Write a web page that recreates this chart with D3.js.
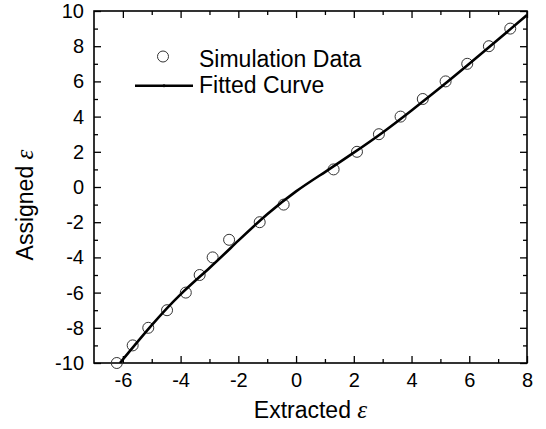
<!DOCTYPE html>
<html>
<head>
<meta charset="utf-8">
<style>
body { margin: 0; background: #fff; }
text { font-family: "Liberation Sans", Arial, sans-serif; fill: #000; }
.tick text { font-size: 20px; }
</style>
</head>
<body>
<script src="https://cdn.jsdelivr.net/npm/d3@7"></script>
<script>

// simulation data (extracted vs assigned)
var simX = [-6.21, -5.66, -5.12, -4.47, -3.82, -3.34, -2.89, -2.32, -1.26, -0.43,
            1.30, 2.11, 2.87, 3.62, 4.39, 5.18, 5.93, 6.68, 7.42];
var simY = [-10, -9, -8, -7, -6, -5, -4, -3, -2, -1,
            1, 2, 3, 4, 5, 6, 7, 8, 9];

// fitted curve
var fitX = [-6.1, -5, -4, -3, -2, -1, 0, 1, 2, 3, 4, 5, 6, 7, 8];
var fitY = [-10, -7.85, -6.1, -4.6, -3.05, -1.55, -0.25, 0.85, 1.95, 3.1, 4.35, 5.65, 7.0, 8.38, 9.77];

var xTicks = [-6, -4, -2, 0, 2, 4, 6, 8];
var yTicks = [-10, -8, -6, -4, -2, 0, 2, 4, 6, 8, 10];

var width = 546, height = 429;
var margin = {left: 94, right: 19, top: 11, bottom: 66};

var svg = d3.select("body").append("svg")
    .attr("width", width)
    .attr("height", height);

var x = d3.scaleLinear().domain([-7, 8]).range([margin.left, width - margin.right]);
var y = d3.scaleLinear().domain([-10, 10]).range([height - margin.bottom, margin.top]);

var minorX = d3.range(-5, 9, 2);
var minorY = d3.range(-9, 10, 2);
var fmt = function(d) { return String(d); };

function styleAxis(g) {
  g.select(".domain").remove();
  g.selectAll(".tick line").attr("stroke", "#000").attr("stroke-width", 1.3);
}

// bottom
svg.append("g")
    .attr("transform", "translate(0," + y(-10) + ")")
    .call(d3.axisBottom(x).tickValues(xTicks).tickSize(-7).tickPadding(10).tickFormat(fmt))
    .call(styleAxis);
svg.append("g")
    .attr("transform", "translate(0," + y(-10) + ")")
    .call(d3.axisBottom(x).tickValues(minorX).tickSize(-4).tickFormat(""))
    .call(styleAxis);
// top
svg.append("g")
    .attr("transform", "translate(0," + y(10) + ")")
    .call(d3.axisTop(x).tickValues(xTicks).tickSize(-7).tickFormat(""))
    .call(styleAxis);
svg.append("g")
    .attr("transform", "translate(0," + y(10) + ")")
    .call(d3.axisTop(x).tickValues(minorX).tickSize(-4).tickFormat(""))
    .call(styleAxis);
// left
svg.append("g")
    .attr("transform", "translate(" + x(-7) + ",0)")
    .call(d3.axisLeft(y).tickValues(yTicks).tickSize(-7).tickPadding(10).tickFormat(fmt))
    .call(styleAxis);
svg.append("g")
    .attr("transform", "translate(" + x(-7) + ",0)")
    .call(d3.axisLeft(y).tickValues(minorY).tickSize(-4).tickFormat(""))
    .call(styleAxis);
// right
svg.append("g")
    .attr("transform", "translate(" + x(8) + ",0)")
    .call(d3.axisRight(y).tickValues(yTicks).tickSize(-7).tickFormat(""))
    .call(styleAxis);
svg.append("g")
    .attr("transform", "translate(" + x(8) + ",0)")
    .call(d3.axisRight(y).tickValues(minorY).tickSize(-4).tickFormat(""))
    .call(styleAxis);

// frame
svg.append("rect")
    .attr("x", x(-7)).attr("y", y(10))
    .attr("width", x(8) - x(-7)).attr("height", y(-10) - y(10))
    .attr("fill", "none").attr("stroke", "#000").attr("stroke-width", 1.6);

// clip for curve
svg.append("clipPath").attr("id", "clip")
  .append("rect")
    .attr("x", x(-7)).attr("y", y(10))
    .attr("width", x(8) - x(-7)).attr("height", y(-10) - y(10));

var sim = simX.map(function(d, i) { return {x: d, y: simY[i]}; });
var fit = fitX.map(function(d, i) { return {x: d, y: fitY[i]}; });

svg.append("g").selectAll("circle")
    .data(sim)
    .enter().append("circle")
    .attr("cx", function(d) { return x(d.x); })
    .attr("cy", function(d) { return y(d.y); })
    .attr("r", 5.5)
    .attr("fill", "none")
    .attr("stroke", "#333")
    .attr("stroke-width", 1);

var line = d3.line()
    .x(function(d) { return x(d.x); })
    .y(function(d) { return y(d.y); })
    .curve(d3.curveNatural);

svg.append("path")
    .datum(fit)
    .attr("clip-path", "url(#clip)")
    .attr("d", line)
    .attr("fill", "none")
    .attr("stroke", "#000")
    .attr("stroke-width", 2.6);

// legend
var legend = svg.append("g");
legend.append("circle")
    .attr("cx", 163).attr("cy", 56.5).attr("r", 5.5)
    .attr("fill", "none").attr("stroke", "#333").attr("stroke-width", 1);
legend.append("text")
    .attr("x", 199).attr("y", 66.5)
    .style("font-size", "23px")
    .text("Simulation Data");
legend.append("line")
    .attr("x1", 135).attr("x2", 193).attr("y1", 85.7).attr("y2", 85.7)
    .attr("stroke", "#000").attr("stroke-width", 2.6);
legend.append("circle")
    .attr("cx", 164).attr("cy", 85.7).attr("r", 1.5).attr("fill", "#000");
legend.append("text")
    .attr("x", 199).attr("y", 93.3)
    .style("font-size", "23px")
    .text("Fitted Curve");

// axis titles
var xt = svg.append("text")
    .attr("x", (x(-7) + x(8)) / 2)
    .attr("y", 418)
    .attr("text-anchor", "middle")
    .style("font-size", "23px");
xt.append("tspan").text("Extracted ");
xt.append("tspan")
    .style("font-family", "'Liberation Serif', serif")
    .style("font-style", "italic")
    .style("font-size", "25px")
    .text("ε");

var yt = svg.append("text")
    .attr("transform", "translate(33," + 205 + ") rotate(-90)")
    .attr("text-anchor", "middle")
    .style("font-size", "23px");
yt.append("tspan").text("Assigned ");
yt.append("tspan")
    .style("font-family", "'Liberation Serif', serif")
    .style("font-style", "italic")
    .style("font-size", "25px")
    .text("ε");

</script>
</body>
</html>
